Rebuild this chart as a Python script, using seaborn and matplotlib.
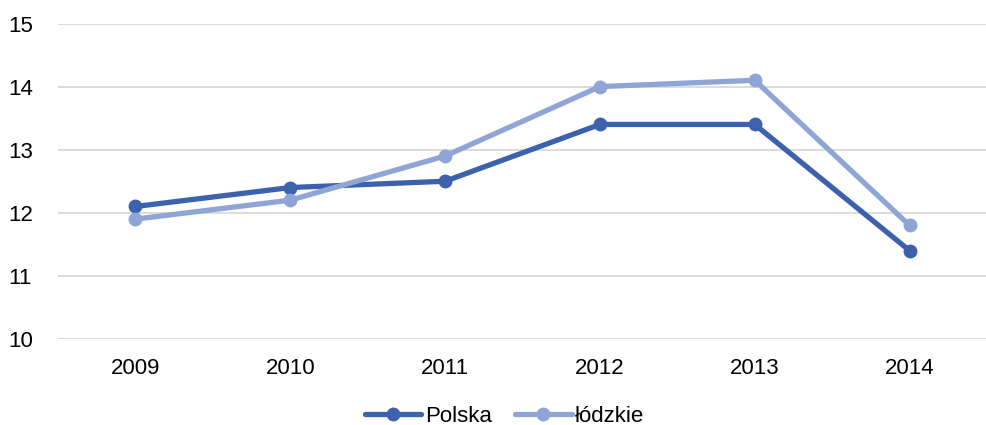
import matplotlib
matplotlib.use("Agg")
import matplotlib.pyplot as plt
import seaborn as sns
import pandas as pd

years = ["2009", "2010", "2011", "2012", "2013", "2014"]
polska = [12.1, 12.4, 12.5, 13.4, 13.4, 11.4]
lodzkie = [11.9, 12.2, 12.9, 14.0, 14.1, 11.8]
series_names = ["Polska", "łódzkie"]
colors = ["#3C62AD", "#8FA5D6"]

df = pd.DataFrame({
    "year": years * 2,
    "value": polska + lodzkie,
    "series": [series_names[0]] * 6 + [series_names[1]] * 6,
})

sns.set_theme(style="white")
plt.rcParams["font.family"] = ["Liberation Sans", "DejaVu Sans"]
plt.rcParams["text.color"] = "#000000"

fig = plt.figure(figsize=(9.87, 4.25), dpi=100)
ax = fig.add_axes([0.0588, 0.2024, 0.9412, 0.7423])
sns.lineplot(data=df, x="year", y="value", hue="series", palette=colors,
             marker="o", markersize=10, markeredgewidth=0, linewidth=3.8,
             ax=ax, sort=False)

ax.set_xlim(-0.5, 5.5)
ax.set_ylim(10, 15)
ax.set_yticks([10, 11, 12, 13, 14, 15])
ax.yaxis.grid(True, color="#D9D9D9", linewidth=1.3)
ax.set_axisbelow(True)
for s in ax.spines.values():
    s.set_visible(False)
ax.set_xlabel("")
ax.set_ylabel("")
ax.tick_params(axis="both", length=0, labelsize=16, colors="#000000")
ax.tick_params(axis="x", pad=14)
ax.tick_params(axis="y", pad=36)
for lab in ax.get_yticklabels():
    lab.set_horizontalalignment("left")

handles, labels = ax.get_legend_handles_labels()
leg = ax.legend(handles, labels, loc="center", bbox_to_anchor=(0.4806, -0.245),
          bbox_transform=ax.transAxes, ncol=2, frameon=False, fontsize=16,
          handlelength=2.55, handletextpad=0.15, columnspacing=1.05,
          borderpad=0.2)
for t in leg.get_texts():
    t.set_color("#000000")
fig.savefig("out.png", dpi=100)
